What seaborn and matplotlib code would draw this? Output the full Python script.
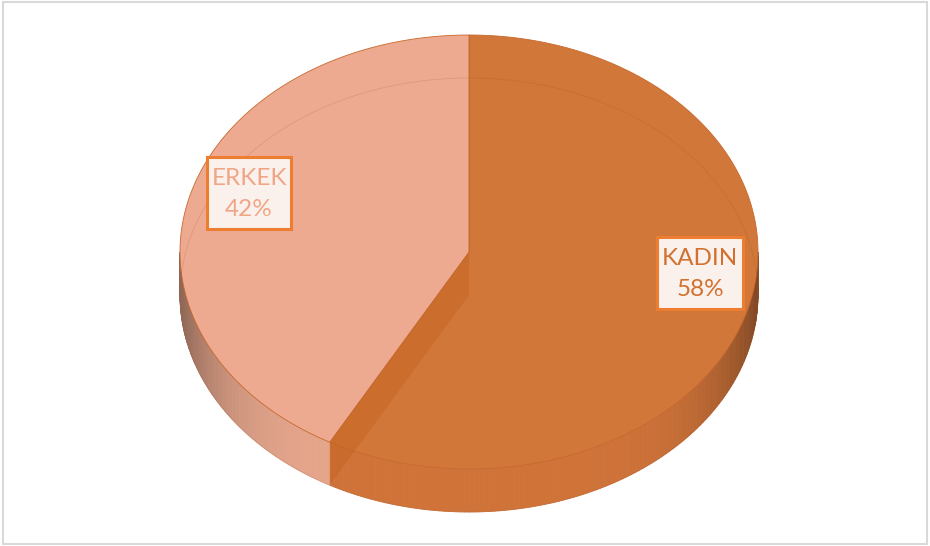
import numpy as np
import matplotlib.pyplot as plt
import seaborn as sns
from matplotlib.patches import Polygon, Rectangle, Ellipse
from matplotlib.colors import to_rgb

# data
labels = ['KADIN', 'ERKEK']
values = [58, 42]

# styling
top_colors = ['#D07739', '#EDAA90']
side_colors = ['#CF7339', '#E6A68C']
text_colors = ['#D2702F', '#F0A585']
label_pos = [(700, 273), (249, 193)]
label_box = [(86, 72), (84, 72)]

sns.set_theme(style='white')
plt.rcParams['font.family'] = ['Lato', 'DejaVu Sans']

fig = plt.figure(figsize=(9.3, 5.46), dpi=100)
ax = fig.add_axes([0, 0, 1, 1])
ax.set_xlim(0, 930)
ax.set_ylim(546, 0)
ax.axis('off')

# chart border
fig.patches.append(Rectangle((0.003, 0.003), 0.994, 0.994, transform=fig.transFigure,
                             fill=False, ec='#D9D9D9', lw=1.5))

# tilted pie geometry
cx, cy, rx, ry, depth = 469, 252, 289, 217, 43


def rim(phi, dy=0):
    return cx + rx * np.sin(phi), cy - ry * np.cos(phi) + dy


fracs = np.array(values) / sum(values)
edges = np.concatenate([[0], np.cumsum(fracs)]) * 2 * np.pi

# side band (front half only), darker toward the edges
for i in range(len(values)):
    lo = max(edges[i], np.pi / 2)
    hi = min(edges[i + 1], 3 * np.pi / 2)
    if lo >= hi:
        continue
    phis = np.linspace(lo, hi, 120)
    base = np.array(to_rgb(side_colors[i]))
    for a, b in zip(phis[:-1], phis[1:]):
        m = (a + b) / 2
        col = base * (1 - 0.38 * abs(np.sin(m)) ** 6)
        x1, y1 = rim(a)
        x2, y2 = rim(b)
        ax.add_patch(Polygon([(x1, y1), (x2, y2), (x2, y2 + depth), (x1, y1 + depth)],
                             closed=True, fc=col, ec=col, lw=0.6))

# top faces
for i in range(len(values)):
    phis = np.linspace(edges[i], edges[i + 1], 200)
    xs, ys = rim(phis)
    pts = [(cx, cy)] + list(zip(xs, ys))
    ax.add_patch(Polygon(pts, closed=True, fc=top_colors[i], ec='#C8682C', lw=0.6))

# cut face of the slice (seen through)
b = edges[1]
bx, by = rim(b)
ax.add_patch(Polygon([(cx, cy), (bx, by), (bx, by + depth), (cx, cy + depth)],
                     closed=True, fc='#C4621F', ec='none', alpha=0.45))
ax.plot([cx, cx], [cy - ry, cy], color='#C8682C', lw=0.6)

# faint bottom rim seen through
ax.add_patch(Ellipse((cx, cy + depth), 2 * rx, 2 * ry, fill=False,
                     ec='#A0522D', lw=0.6, alpha=0.2))

# labels
for i, lab in enumerate(labels):
    x, y = label_pos[i]
    w, h = label_box[i]
    ax.add_patch(Rectangle((x - w / 2, y - h / 2), w, h, fc='#FBF1EC', ec='#ED7D31', lw=2.2))
    ax.text(x, y + 1, f'{lab}\n{values[i]}%', ha='center', va='center',
            fontsize=17.5, color=text_colors[i], linespacing=1.55)

fig.savefig('out.png', dpi=100)
